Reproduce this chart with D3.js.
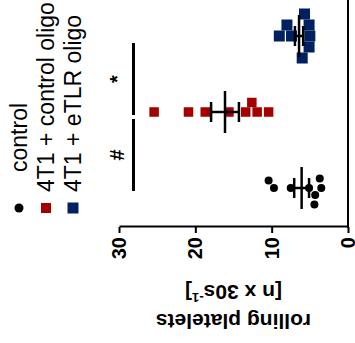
<!DOCTYPE html>
<html>
<head>
<meta charset="utf-8">
<script src="https://cdn.jsdelivr.net/npm/d3@7"></script>
<style>
  body { margin: 0; background: #fff; }
  svg { display: block; font-family: Arial, "Liberation Sans", sans-serif; }
</style>
</head>
<body>
<div id="chart"></div>
<script>
const groups = ['control', '4T1 + control oligo', '4T1 + eTLR oligo'];
const groupColors = ['#000000', '#a50000', '#002060'];

const controlValues = [10.4, 9.7, 7.5, 4.4, 3.7, 3.5, 4.3, 5.1];
const ctrlOligoValues = [25.4, 20.9, 18.7, 15.6, 12.6, 11.9, 13.4, 10.4];
const eTLRValues = [9.0, 8.0, 7.4, 5.7, 5.0, 5.1, 5.1, 6.0];

const yTicks = [0, 10, 20, 30];
const comparisons = [
  { from: 'control', to: '4T1 + control oligo', label: '#' },
  { from: '4T1 + control oligo', to: '4T1 + eTLR oligo', label: '*' }
];
const sigLevel = 28.1;

const chartWidth = 355;
const chartHeight = 343;

// the figure is an upright dot plot turned a quarter turn to the left,
// so everything below is drawn in the upright frame
var svg = d3.select('#chart')
  .append('svg')
  .attr('width', chartWidth)
  .attr('height', chartHeight);

var g = svg.append('g')
  .attr('transform', 'translate(0,' + chartHeight + ') rotate(-90)');

// Scales
var y = d3.scaleLinear().domain([0, 30]).range([348, 119]);
var x = d3.scalePoint().domain(groups).range([155, 307]);

var series = [controlValues, ctrlOligoValues, eTLRValues];
var markSize = [8, 9.5, 11];

// simple beeswarm: lowest values first, each one moved sideways until free
function swarm(values, size, round) {
  var placed = [];
  var gap = round ? size * 1.15 : size;
  values.slice().sort(function (a, b) { return a - b; }).forEach(function (v) {
    var py = y(v);
    for (var k = 0; k < 400; k++) {
      var off = (k % 2 ? 1 : -1) * Math.ceil(k / 2) * 0.5;
      var hit = placed.some(function (p) {
        var dx = p.off - off, dy = p.py - py;
        return round ? dx * dx + dy * dy < gap * gap
                     : Math.abs(dx) < gap && Math.abs(dy) < gap;
      });
      if (!hit) { placed.push({ v: v, py: py, off: off }); break; }
    }
  });
  return placed;
}

// axes
var yAxis = g.append('g')
  .attr('transform', 'translate(116,0)')
  .call(d3.axisLeft(y).tickValues(yTicks).tickSize(6).tickSizeOuter(0).tickPadding(4));
yAxis.selectAll('path, line').attr('stroke', '#000').attr('stroke-width', 2);
yAxis.selectAll('text')
  .attr('font-size', '20px')
  .attr('font-weight', 'bold')
  .attr('fill', '#000');

g.append('line')
  .attr('x1', 115).attr('x2', chartHeight)
  .attr('y1', y(0)).attr('y2', y(0))
  .attr('stroke', '#000')
  .attr('stroke-width', 2);

var title = g.append('text')
  .attr('transform', 'translate(0,' + (y(0) + y(30)) / 2 + ') rotate(-90)')
  .attr('text-anchor', 'middle')
  .attr('font-size', '21px')
  .attr('font-weight', 'bold');
title.append('tspan').attr('x', 0).attr('y', 29).text('rolling platelets');
var t2 = title.append('tspan').attr('x', 0).attr('y', 58).text('[n x 30s');
t2.append('tspan').attr('font-size', '13px').attr('dy', -8).text('-1');
t2.append('tspan').attr('dy', 8).text(']');

// points
series.forEach(function (vals, i) {
  var cx = x(groups[i]);
  var pts = swarm(vals, markSize[i], i === 0);
  if (i === 0) {
    g.append('g').selectAll('circle')
      .data(pts)
      .enter()
      .append('circle')
      .attr('cx', function (d) { return cx + d.off; })
      .attr('cy', function (d) { return d.py; })
      .attr('r', markSize[i] / 2)
      .attr('fill', groupColors[i]);
  } else {
    g.append('g').selectAll('rect')
      .data(pts)
      .enter()
      .append('rect')
      .attr('x', function (d) { return cx + d.off - markSize[i] / 2; })
      .attr('y', function (d) { return d.py - markSize[i] / 2; })
      .attr('width', markSize[i])
      .attr('height', markSize[i])
      .attr('fill', groupColors[i]);
  }
});

// mean and SEM
series.forEach(function (vals, i) {
  var cx = x(groups[i]);
  var m = d3.mean(vals);
  var sem = d3.deviation(vals) / Math.sqrt(vals.length);
  var eb = g.append('g').attr('stroke', '#000').attr('stroke-width', 2.5);
  eb.append('line')
    .attr('x1', cx - 21).attr('x2', cx + 21)
    .attr('y1', y(m)).attr('y2', y(m));
  eb.append('line')
    .attr('x1', cx).attr('x2', cx)
    .attr('y1', y(m - sem)).attr('y2', y(m + sem));
  [m - sem, m + sem].forEach(function (v) {
    eb.append('line')
      .attr('x1', cx - 10).attr('x2', cx + 10)
      .attr('y1', y(v)).attr('y2', y(v));
  });
});

// significance bars
comparisons.forEach(function (c) {
  var mid = (x(c.from) + x(c.to)) / 2 - 5;
  g.append('line')
    .attr('x1', mid - 36).attr('x2', mid + 36)
    .attr('y1', y(sigLevel)).attr('y2', y(sigLevel))
    .attr('stroke', '#000')
    .attr('stroke-width', 3);
  g.append('text')
    .attr('x', mid)
    .attr('y', y(sigLevel) - 10)
    .attr('text-anchor', 'middle')
    .attr('font-size', '20px')
    .attr('font-weight', 'bold')
    .text(c.label);
});

// legend
var legend = g.append('g')
  .selectAll('g')
  .data(groups)
  .enter()
  .append('g')
  .attr('transform', function (d, i) { return 'translate(135,' + (19 + i * 27) + ')'; });

legend.each(function (d, i) {
  var row = d3.select(this);
  if (i === 0) {
    row.append('circle').attr('r', 4.5).attr('fill', groupColors[i]);
  } else {
    var s = i === 1 ? 10 : 11;
    row.append('rect')
      .attr('x', -s / 2).attr('y', -s / 2)
      .attr('width', s).attr('height', s)
      .attr('fill', groupColors[i]);
  }
  row.append('text')
    .attr('x', i === 0 ? 36 : 16)
    .attr('dy', '0.35em')
    .attr('font-size', '23px')
    .text(d);
});
</script>
</body>
</html>
